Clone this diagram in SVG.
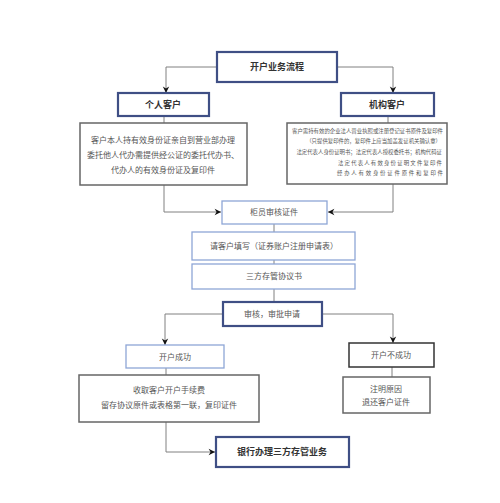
<svg xmlns="http://www.w3.org/2000/svg" width="500" height="503" viewBox="0 0 500 503">
<style>
text{font-family:"Noto Sans CJK SC","Noto Sans",sans-serif;fill:#444;text-anchor:middle}
.t{font-size:9px;font-weight:bold;fill:#333}
.s{font-size:8px;fill:#555}
.xs{font-size:5.4px;fill:#555;text-anchor:end}
.dark{fill:#fff;stroke:#3f4f85;stroke-width:2.2}
.light{fill:#fff;stroke:#8ea6d6;stroke-width:1.3}
.gray{fill:#fff;stroke:#666;stroke-width:1.5}
.blk{fill:#fff;stroke:#333;stroke-width:1.5}
.c{fill:none;stroke:#808080;stroke-width:1}
</style>
<defs>
<marker id="a" viewBox="0 0 10 10" refX="9" refY="5" markerWidth="8" markerHeight="8" markerUnits="userSpaceOnUse" orient="auto">
<path d="M1,1 L9,5 L1,9 L3.5,5 Z" fill="#111"/>
</marker>
</defs>
<rect width="500" height="503" fill="#fff"/>
<g id="connectors">
<path class="c" d="M217,67 H166 V93" marker-end="url(#a)"/>
<path class="c" d="M337,67 H393 V93" marker-end="url(#a)"/>
<path class="c" d="M164,116 V123"/>
<path class="c" d="M388,116 V123"/>
<path class="c" d="M164,185 V212 H221" marker-end="url(#a)"/>
<path class="c" d="M393,184 V212 H328" marker-end="url(#a)"/>
<path class="c" d="M274,224 V232"/>
<path class="c" d="M274,260 V264"/>
<path class="c" d="M274,289 V302"/>
<path class="c" d="M223,314 H165 V345" marker-end="url(#a)"/>
<path class="c" d="M322,314 H393 V343" marker-end="url(#a)"/>
<path class="c" d="M166,368 V375"/>
<path class="c" d="M392,367 V377"/>
<path class="c" d="M166,422 V452 H215" marker-end="url(#a)"/>
</g>
<g id="n-start"><rect class="dark" x="217" y="52" width="120" height="30"/><text class="t" x="277" y="70">开户业务流程</text></g>
<g id="n-personal"><rect class="dark" x="118" y="93" width="91" height="23"/><text class="t" x="163" y="108">个人客户</text></g>
<g id="n-org"><rect class="dark" x="341" y="93" width="93" height="23"/><text class="t" x="387" y="108">机构客户</text></g>
<g id="n-personal-docs"><rect class="gray" x="80" y="123" width="167" height="62"/>
<text class="s" x="163" y="143">客户本人持有效身份证亲自到营业部办理</text>
<text class="s" x="163" y="158">委托他人代办需提供经公证的委托代办书、</text>
<text class="s" x="163" y="173">代办人的有效身份证及复印件</text></g>
<g id="n-org-docs"><rect class="gray" x="287" y="123" width="160" height="61"/>
<text class="xs" x="443" y="133">客户需持有效的企业法人营业执照或注册登记证书原件及复印件</text>
<text class="xs" x="441" y="143">（只提供复印件的，复印件上应当加盖发证机关确认章）</text>
<text class="xs" x="442" y="154">法定代表人身份证明书；法定代表人授权委托书；机构代码证</text>
<text class="xs" x="442" y="165" textLength="104">法定代表人有效身份证明文件复印件</text>
<text class="xs" x="443" y="175" textLength="106">经办人有效身份证件原件和复印件</text></g>
<g id="n-verify"><rect class="light" x="222" y="201" width="105" height="23"/><text class="s" x="274" y="215">柜员审核证件</text></g>
<g id="n-fill"><rect class="light" x="192" y="232" width="163" height="28"/><text class="s" x="274" y="249">请客户填写（证券账户注册申请表）</text></g>
<g id="n-agreement"><rect class="light" x="192" y="264" width="163" height="25"/><text class="s" x="274" y="279">三方存管协议书</text></g>
<g id="n-review"><rect class="dark" x="223" y="302" width="99" height="24"/><text class="s" x="272" y="317">审核，审批申请</text></g>
<g id="n-success"><rect class="light" x="126" y="345" width="98" height="23"/><text class="s" x="175" y="360">开户成功</text></g>
<g id="n-fail"><rect class="blk" x="349" y="343" width="85" height="24"/><text class="s" x="391" y="358">开户不成功</text></g>
<g id="n-fee"><rect class="gray" x="79" y="375" width="180" height="47"/>
<text class="s" x="169" y="393">收取客户开户手续费</text>
<text class="s" x="169" y="408">留存协议原件或表格第一联，复印证件</text></g>
<g id="n-return"><rect class="gray" x="343" y="377" width="87" height="36"/>
<text class="s" x="386" y="392">注明原因</text>
<text class="s" x="386" y="405">退还客户证件</text></g>
<g id="n-bank"><rect class="dark" x="216" y="437" width="133" height="30"/><text class="t" x="282" y="455">银行办理三方存管业务</text></g>
</svg>
